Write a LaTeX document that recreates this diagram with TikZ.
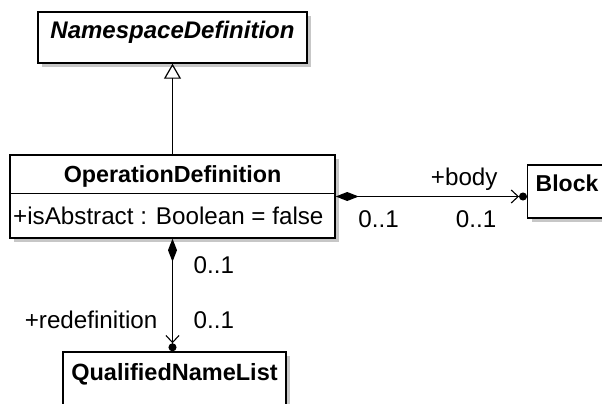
\documentclass[tikz,border=0pt]{standalone}
\usepackage{fontspec}
\setmainfont{Liberation Sans}
\usepackage{tikz}
\usetikzlibrary{arrows.meta,shadows}
\tikzstyle{cls}=[draw,rectangle,fill=white,line width=1.4pt,inner ysep=0pt,drop shadow={shadow xshift=4pt,shadow yshift=-4pt,fill=black!22,opacity=1}]
\tikzstyle{lbl}=[inner sep=0pt]
\tikzstyle{gen}=[-{Triangle[open,width=17pt,length=15pt,line width=1.2pt]},draw,line width=1.3pt]
\tikzstyle{comp}=[{Diamond[width=9pt,length=23pt]}-{Straight Barb[length=7pt,width=13pt,line width=1.1pt] Circle[length=8pt]},draw,line width=1.3pt]

\begin{document}
\begin{tikzpicture}[x=1pt,y=-1pt,font=\fontsize{24.2}{28}\selectfont]
    \useasboundingbox (0,0) rectangle (602,404);
    \node[cls,minimum width=269pt,text height=27pt,text depth=24pt,font=\fontsize{24}{28}\selectfont\bfseries\itshape] (NS) at (172.5,37.5) {NamespaceDefinition};
    \node[cls,minimum width=325pt,text height=27pt,text depth=56pt,font=\fontsize{23.3}{28}\selectfont\bfseries] (Op) at (172.5,196.5) {OperationDefinition};
    \node[lbl,anchor=base west,text height=31pt] (OpAttr) at (13,224.5) {+isAbstract : Boolean = false};
    \node[cls,anchor=west,inner xsep=8pt,text height=26pt,text depth=27pt,font=\fontsize{23}{28}\selectfont\bfseries] (Blk) at (527,191.5) {Block};
    \node[cls,minimum width=223pt,text height=28pt,text depth=40pt,font=\fontsize{23.5}{28}\selectfont\bfseries] (QNL) at (174.5,386) {QualifiedNameList};
    \draw[line width=1.4pt] (Op.west |- OpAttr.north) -- (Op.east |- OpAttr.north);
    \draw[gen] (Op.north) -- (NS.south);
    \draw[comp] (Op.east) --
      node[lbl,pos=0.672,yshift=17.5pt] (BodyRole) {+body}
      node[lbl,pos=0.224,yshift=-22.5pt] (BodyM1) {0..1}
      node[lbl,pos=0.734,yshift=-22.5pt] (BodyM2) {0..1}
      (Op.east -| Blk.west);
    \draw[comp] (Op.south) --
      node[lbl,pos=0.237,anchor=west,xshift=20.5pt] (RedefM1) {0..1}
      node[lbl,pos=0.72,anchor=west,xshift=20.5pt] (RedefM2) {0..1}
      node[lbl,pos=0.72,anchor=east,xshift=-14.5pt] (RedefRole) {+redefinition}
      (Op.south |- QNL.north);
\end{tikzpicture}
\end{document}
